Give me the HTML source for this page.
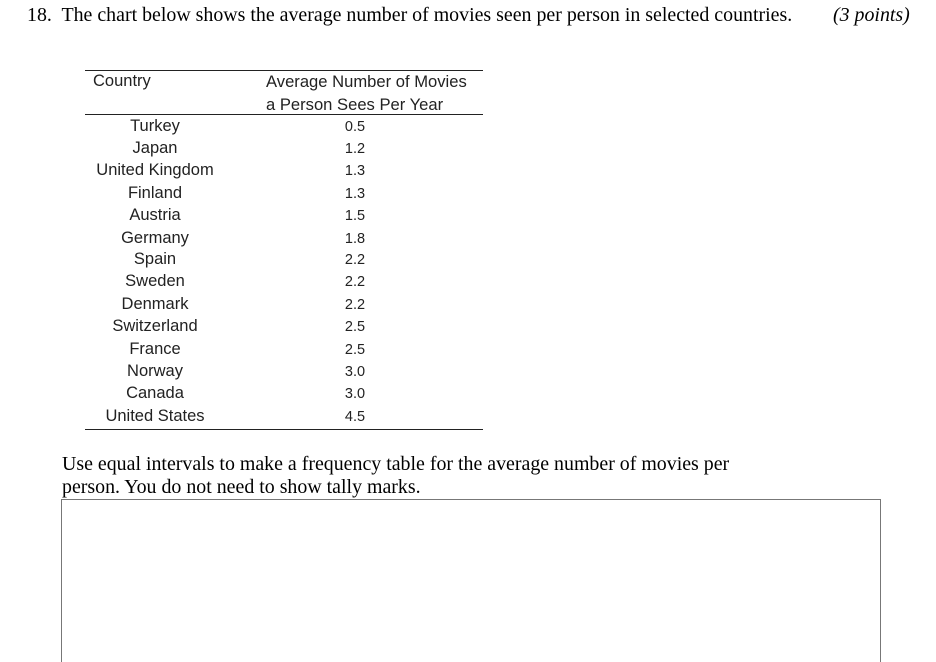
<!DOCTYPE html>
<html style="overflow:hidden;height:662px"><head><style>
body{margin:0;width:936px;height:662px;background:#fff;position:relative;overflow:hidden}
.s{position:absolute;font-family:"Liberation Serif",serif;font-size:19.9px;color:#000;white-space:nowrap}
.t{position:absolute;font-family:"Liberation Sans",sans-serif;font-size:16.5px;color:#222;white-space:nowrap}
.c{width:140px;left:85px;text-align:center}
.v{width:60px;left:325px;text-align:center;font-size:14.5px}
.l{position:absolute;left:85px;width:398px;height:0;border-top:1.5px solid #222}
</style></head><body>
<div class="s" style="left:27px;top:4px">18.&nbsp; The chart below shows the average number of movies seen per person in selected countries.</div>
<div class="s" style="left:833px;top:4px;font-style:italic">(3 points)</div>
<div class="l" style="top:70px"></div>
<div class="l" style="top:114px"></div>
<div class="l" style="top:429px"></div>
<div class="t" style="left:93px;top:72px">Country</div>
<div class="t" style="left:266px;top:72px;font-size:16.6px">Average Number of Movies</div>
<div class="t" style="left:266px;top:95px;font-size:16.6px">a Person Sees Per Year</div>
<div class="t c" style="top:117px">Turkey</div><div class="t v" style="top:119px">0.5</div>
<div class="t c" style="top:139px">Japan</div><div class="t v" style="top:141px">1.2</div>
<div class="t c" style="top:161px">United Kingdom</div><div class="t v" style="top:163px">1.3</div>
<div class="t c" style="top:184px">Finland</div><div class="t v" style="top:186px">1.3</div>
<div class="t c" style="top:206px">Austria</div><div class="t v" style="top:208px">1.5</div>
<div class="t c" style="top:229px">Germany</div><div class="t v" style="top:231px">1.8</div>
<div class="t c" style="top:250px">Spain</div><div class="t v" style="top:252px">2.2</div>
<div class="t c" style="top:272px">Sweden</div><div class="t v" style="top:274px">2.2</div>
<div class="t c" style="top:295px">Denmark</div><div class="t v" style="top:297px">2.2</div>
<div class="t c" style="top:317px">Switzerland</div><div class="t v" style="top:319px">2.5</div>
<div class="t c" style="top:340px">France</div><div class="t v" style="top:342px">2.5</div>
<div class="t c" style="top:362px">Norway</div><div class="t v" style="top:364px">3.0</div>
<div class="t c" style="top:384px">Canada</div><div class="t v" style="top:386px">3.0</div>
<div class="t c" style="top:407px">United States</div><div class="t v" style="top:409px">4.5</div>
<div class="s" style="left:62px;top:453px">Use equal intervals to make a frequency table for the average number of movies per</div>
<div class="s" style="left:62px;top:476px">person. You do not need to show tally marks.</div>
<div style="position:absolute;left:61px;top:499px;width:818px;height:170px;border:1px solid #777"></div>
</body></html>
